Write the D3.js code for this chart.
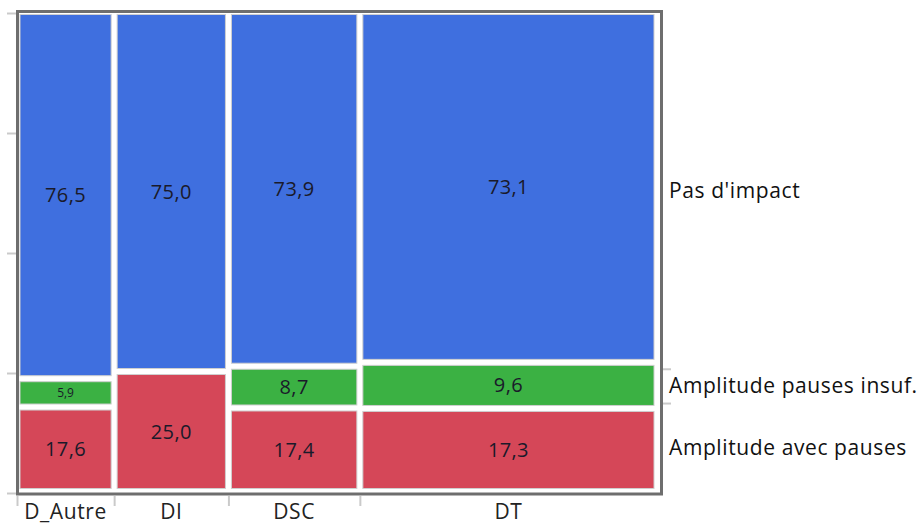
<!DOCTYPE html>
<html lang="fr">
<head>
    <meta charset="utf-8">
    <script src="https://d3js.org/d3.v7.min.js"></script>
    <style>
        body { margin: 0; background: #fff; }
        svg text { font-family: "Open Sans", "Noto Sans", sans-serif; }
    </style>
</head>
<body>
<svg id="vis" width="924" height="524"></svg>

<script>
    // categories (columns) and their counts (column width)
    var groups = ["D_Autre", "DI", "DSC", "DT"];
    var group_n = [17, 20, 23, 52];

    // stacked levels, bottom to top
    var levels = ["Amplitude avec pauses", "Amplitude pauses insuf.", "Pas d'impact"];
    var level_colors = ["#d54758", "#3bb143", "#3f6fdf"];

    // percentages per column, one array per level
    var pct_avec = [17.6, 25.0, 17.4, 17.3];
    var pct_insuf = [5.9, 0, 8.7, 9.6];
    var pct_impact = [76.5, 75.0, 73.9, 73.1];
    var pct = [pct_avec, pct_insuf, pct_impact];

    var gap = 3;

    var svg = d3.select("#vis");

    var total = d3.sum(group_n);
    var cum = [0];
    group_n.forEach(function(n, i) { cum.push(cum[i] + n); });

    var x = d3.scaleLinear().domain([0, total]).range([17, 657]);
    var y = d3.scaleLinear().domain([0, 100]).range([491.5, 11.5]);
    // axis scale (frame)
    var ya = d3.scaleLinear().domain([0, 100]).range([493, 13]);

    function grayTicks(g) {
        g.select(".domain").remove();
        g.selectAll("line").attr("stroke", "#cacaca").attr("stroke-width", 2);
    }

    // left axis ticks (no labels)
    svg.append("g")
        .attr("transform", "translate(18,0)")
        .call(d3.axisLeft(ya).tickValues([0, 25, 50, 75, 100]).tickSize(11).tickFormat(""))
        .call(grayTicks);

    // bottom ticks at column boundaries
    svg.append("g")
        .attr("transform", "translate(0,496)")
        .call(d3.axisBottom(x).tickValues(cum.slice(0, cum.length - 1)).tickSize(10).tickFormat(""))
        .call(grayTicks);

    // column labels
    svg.append("g").selectAll("text")
        .data(groups)
        .enter().append("text")
        .attr("x", function(d, i) { return (x(cum[i]) + x(cum[i + 1])) / 2; })
        .attr("y", 519)
        .attr("text-anchor", "middle")
        .style("font-size", "21px")
        .style("letter-spacing", "0.6px")
        .style("fill", "#222")
        .text(function(d) { return d; });

    // marginal distribution for the right axis
    var marg = levels.map(function(l, j) {
        return d3.sum(groups, function(g, i) { return pct[j][i] * group_n[i]; }) / total;
    });
    var marg_cum = [0];
    marg.forEach(function(m, j) { marg_cum.push(marg_cum[j] + m); });

    svg.append("g")
        .attr("transform", "translate(661,0)")
        .call(d3.axisRight(ya).tickValues([marg_cum[1], marg_cum[2]]).tickSize(10).tickFormat(""))
        .call(grayTicks);

    svg.append("g").selectAll("text")
        .data(levels)
        .enter().append("text")
        .attr("x", 669)
        .attr("y", function(d, j) { return (ya(marg_cum[j]) + ya(Math.min(100, marg_cum[j + 1]))) / 2; })
        .attr("dy", "0.35em")
        .style("font-size", "21px")
        .style("letter-spacing", "0.6px")
        .style("fill", "#111")
        .text(function(d) { return d; });

    // cells
    var cells = [];
    groups.forEach(function(g, i) {
        var base = 0;
        levels.forEach(function(l, j) {
            var v = pct[j][i];
            if (v > 0) {
                cells.push({ i: i, j: j, v: v, y0: base, y1: base + v });
            }
            base += v;
        });
    });

    var cell = svg.append("g").selectAll("g")
        .data(cells)
        .enter().append("g");

    cell.append("rect")
        .attr("x", function(d) { return x(cum[d.i]) + gap; })
        .attr("width", function(d) { return x(cum[d.i + 1]) - x(cum[d.i]) - 2 * gap; })
        .attr("y", function(d) { return y(d.y1) + gap; })
        .attr("height", function(d) { return y(d.y0) - y(d.y1) - 2 * gap; })
        .attr("fill", function(d) { return level_colors[d.j]; })
        .attr("stroke", "#cfcfcf")
        .attr("stroke-width", 1);

    cell.append("text")
        .attr("x", function(d) { return (x(cum[d.i]) + x(cum[d.i + 1])) / 2; })
        .attr("y", function(d) { return (y(d.y0) + y(d.y1)) / 2; })
        .attr("dy", "0.35em")
        .attr("text-anchor", "middle")
        .style("font-size", function(d) { return (y(d.y0) - y(d.y1)) < 32 ? "12px" : "20px"; })
        .style("letter-spacing", function(d) { return (y(d.y0) - y(d.y1)) < 32 ? "0px" : "0.4px"; })
        .style("fill", "#1a1a2a")
        .text(function(d) { return d.v.toFixed(1).replace(".", ","); });

    // frame
    svg.append("rect")
        .attr("x", 17.5)
        .attr("y", 11.5)
        .attr("width", 644)
        .attr("height", 482.5)
        .attr("fill", "none")
        .attr("stroke", "#6e6e6e")
        .attr("stroke-width", 3);

</script>
</body>
</html>
